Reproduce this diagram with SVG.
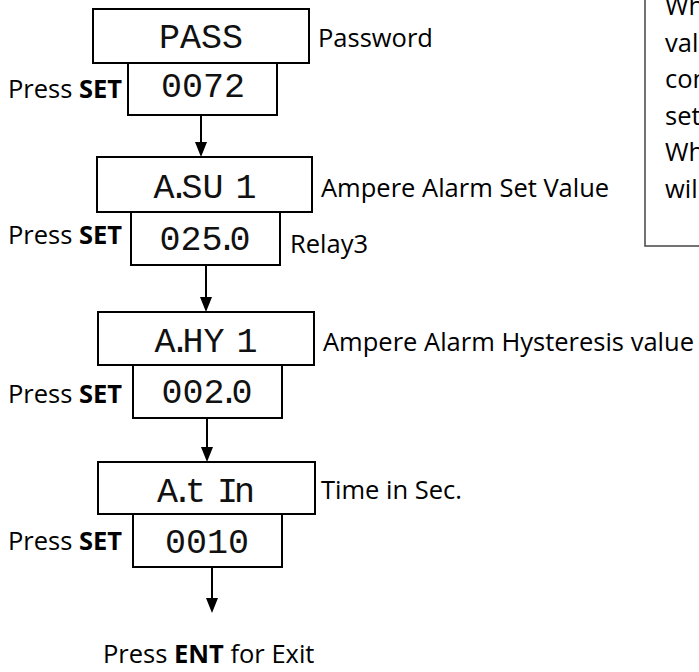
<svg xmlns="http://www.w3.org/2000/svg" width="699" height="672" viewBox="0 0 699 672">
<style>
.box{fill:#fff;stroke:#000;stroke-width:2}
.seg{font-family:"Liberation Mono","DejaVu Sans Mono",monospace;font-size:35px;fill:#111;text-anchor:middle}
.lbl{font-family:"Open Sans","Noto Sans",sans-serif;font-size:25.5px;fill:#000}
.b{font-weight:bold}
.conn{stroke:#000;stroke-width:2;fill:none}
.note{fill:#fff;stroke:#444;stroke-width:1.5}
</style>
<rect width="699" height="672" fill="#fff"/>
<g id="connectors">
<line class="conn" x1="201" y1="115" x2="201" y2="142"/>
<path d="M195,142 L207,142 L201,157 Z" fill="#000"/>
<line class="conn" x1="206" y1="265" x2="206" y2="297"/>
<path d="M200,297 L212,297 L206,312 Z" fill="#000"/>
<line class="conn" x1="207" y1="418" x2="207" y2="447"/>
<path d="M201,447 L213,447 L207,462 Z" fill="#000"/>
<line class="conn" x1="212" y1="567" x2="212" y2="598"/>
<path d="M206,598 L218,598 L212,613 Z" fill="#000"/>
</g>
<g id="node-pass">
<rect class="box" x="93" y="9" width="216" height="54"/>
<text class="seg" x="201" y="48">PASS</text>
<text class="lbl" x="318" y="47">Password</text>
</g>
<g id="node-0072">
<rect class="box" x="128" y="63" width="149" height="52"/>
<text class="seg" x="203" y="97">0072</text>
<text class="lbl" x="8" y="98">Press <tspan class="b">SET</tspan></text>
</g>
<g id="node-asu1">
<rect class="box" x="97" y="157" width="215" height="55"/>
<text class="seg" x="205" y="198">A<tspan dx="-6">.</tspan><tspan dx="-8">SU</tspan> <tspan dx="-9">1</tspan></text>
<text class="lbl" x="321" y="197">Ampere Alarm Set Value</text>
</g>
<g id="node-0250">
<rect class="box" x="131" y="212" width="149" height="53"/>
<text class="seg" x="205" y="250">025<tspan dx="-6">.</tspan><tspan dx="-8">0</tspan></text>
<text class="lbl" x="8" y="244">Press <tspan class="b">SET</tspan></text>
<text class="lbl" x="290" y="253">Relay3</text>
</g>
<g id="node-ahy1">
<rect class="box" x="98" y="312" width="216" height="53"/>
<text class="seg" x="206" y="352">A<tspan dx="-6">.</tspan><tspan dx="-8">HY</tspan> <tspan dx="-9">1</tspan></text>
<text class="lbl" x="323" y="351">Ampere Alarm Hysteresis value</text>
</g>
<g id="node-0020">
<rect class="box" x="133" y="365" width="149" height="53"/>
<text class="seg" x="207" y="403">002<tspan dx="-6">.</tspan><tspan dx="-8">0</tspan></text>
<text class="lbl" x="8" y="403">Press <tspan class="b">SET</tspan></text>
</g>
<g id="node-atin">
<rect class="box" x="98" y="462" width="217" height="52"/>
<text class="seg" x="206" y="502">A<tspan dx="-6">.</tspan><tspan dx="-8">t</tspan> <tspan dx="-10">I</tspan><tspan dx="-4">n</tspan></text>
<text class="lbl" x="321" y="499">Time in Sec.</text>
</g>
<g id="node-0010">
<rect class="box" x="133" y="514" width="149" height="53"/>
<text class="seg" x="207" y="553">0010</text>
<text class="lbl" x="8" y="550">Press <tspan class="b">SET</tspan></text>
</g>
<g id="node-exit">
<text class="lbl" x="103" y="663">Press <tspan class="b">ENT</tspan> for Exit</text>
</g>
<g id="node-note">
<rect class="note" x="645" y="-5" width="70" height="251"/>
<text class="lbl" x="665" y="15">Wh</text>
<text class="lbl" x="665" y="52">val</text>
<text class="lbl" x="665" y="88">con</text>
<text class="lbl" x="665" y="125">set</text>
<text class="lbl" x="665" y="161">Wh</text>
<text class="lbl" x="665" y="198">wil</text>
</g>
</svg>
